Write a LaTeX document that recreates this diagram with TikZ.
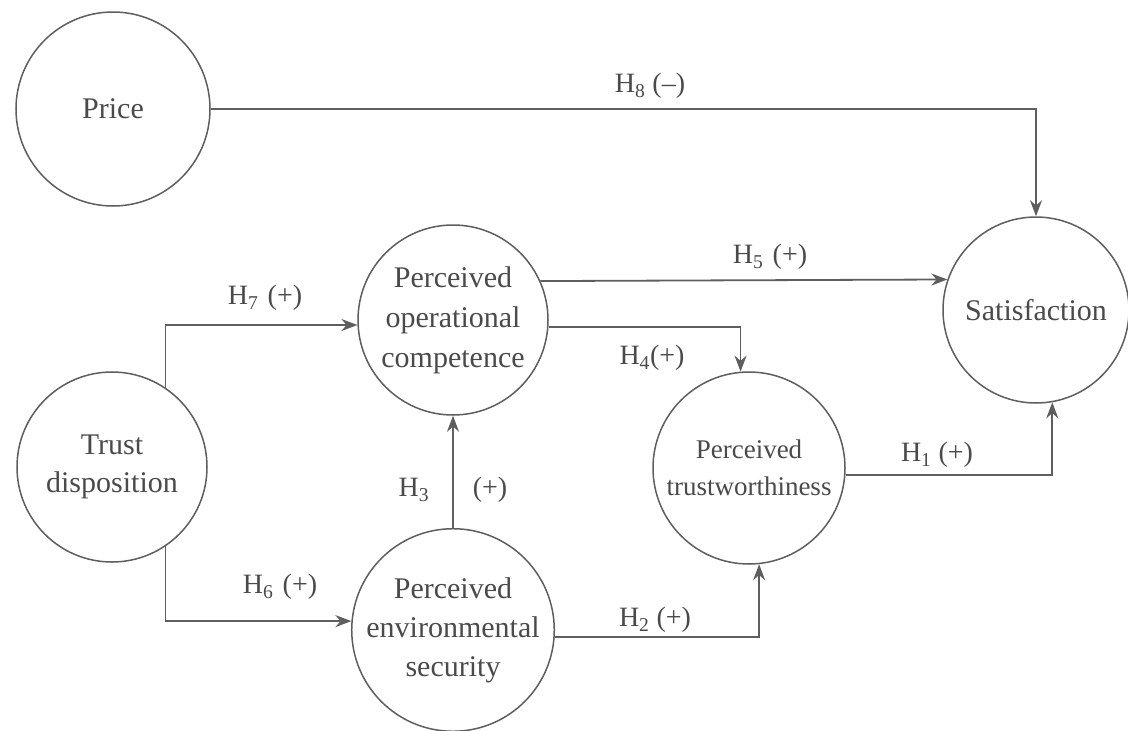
\documentclass[tikz,border=0pt]{standalone}
\usepackage{fontspec}
\setmainfont{Liberation Serif}
\usetikzlibrary{arrows.meta}
\definecolor{linegray}{HTML}{5E5E5E}
\definecolor{textgray}{HTML}{4A4A4A}
\begin{document}
\begin{tikzpicture}[x=1pt,y=-1pt,
  construct/.style={circle,draw=linegray,line width=1.5pt,minimum size=#1,inner sep=0pt,align=center,text=textgray},
  bigtext/.style={font=\fontsize{30}{40}\selectfont},
  smalltext/.style={font=\fontsize{27}{37}\selectfont},
  link/.style={draw=linegray,line width=1.8pt,-{Stealth[length=16pt,width=12pt]}},
  lab/.style={font=\fontsize{28}{34}\selectfont,text=textgray,inner sep=0pt}]
\useasboundingbox (0,0) rectangle (1128,731);
% constructs
\node[construct=194pt,bigtext] (price) at (113,109) {Price};
\node[construct=186pt,bigtext] (sat) at (1036,310) {Satisfaction};
\node[construct=190pt,bigtext] (opc) at (453,320) {Perceived\\operational\\competence};
\node[construct=190pt,font=\fontsize{30}{38}\selectfont] (trust) at (112,467) {Trust\\disposition};
\node[construct=192pt,smalltext] (trw) at (749,468) {Perceived\\trustworthiness};
\node[construct=188pt,font=\fontsize{30}{39}\selectfont] (env) at (453,630) {Perceived\\environmental\\security};
% connectors
\draw[link] (price.east) -| (sat.north);
\draw[link] (opc.24.9) -- (sat.161.2);
\draw[link] (opc.-4.2) -| (trw.95);
\draw[link] (trw.-4.2) -| (sat.-80);
\draw[link] (env.-4.5) -| (trw.-84);
\draw[link] (env.north) -- (opc.south);
\draw[link] (trust.56.8) |- (opc.183);
\draw[link] (trust.-56.8) |- (env.175);
% labels
\node[lab] (l8) at (650,86) {H\textsubscript{8} (–)};
\node[lab] (l5) at (770,257) {H\textsubscript{5}\,\,(+)};
\node[lab] (l7) at (265,298) {H\textsubscript{7}\,\,(+)};
\node[lab] (l4) at (652,358) {H\textsubscript{4}(+)};
\node[lab] (l3a) at (414,490) {H\textsubscript{3}};
\node[lab] (l3b) at (490,490) {(+)};
\node[lab] (l6) at (280,587) {H\textsubscript{6}\,\,(+)};
\node[lab] (l2) at (655,620) {H\textsubscript{2} (+)};
\node[lab] (l1) at (937,455) {H\textsubscript{1} (+)};
\end{tikzpicture}
\end{document}
